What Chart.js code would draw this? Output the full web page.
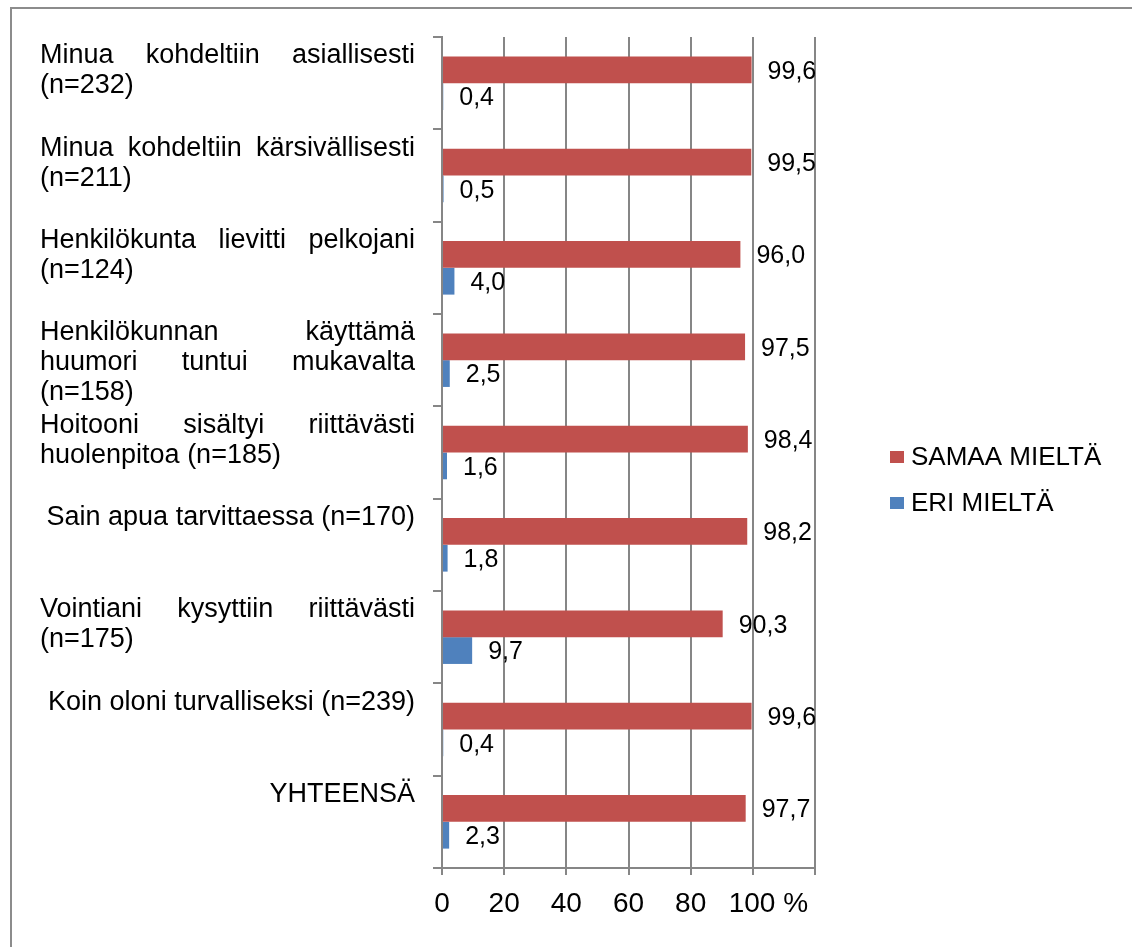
<!DOCTYPE html>
<html>
<head>
<meta charset="utf-8">
<title>SAMAA MIELTÄ / ERI MIELTÄ</title>
<script src="https://cdn.jsdelivr.net/npm/chart.js@4.4.1/dist/chart.umd.min.js"></script>
<style>
  body { margin: 0; background: #fff; }
  #cadre { position: absolute; left: 10px; top: 7px; width: 1122px; height: 940px; border-left: 2px solid #8c8c8c; border-top: 2px solid #8c8c8c; }
  #graph { position: absolute; left: 0; top: 0; }
</style>
</head>
<body>
<div id="cadre"></div>
<canvas id="graph" width="1132" height="947"></canvas>
<script>
// les données du graphique
var categories = [
    ['Minua kohdeltiin asiallisesti', '(n=232)'],
    ['Minua kohdeltiin kärsivällisesti', '(n=211)'],
    ['Henkilökunta lievitti pelkojani', '(n=124)'],
    ['Henkilökunnan käyttämä', 'huumori tuntui mukavalta', '(n=158)'],
    ['Hoitooni sisältyi riittävästi', 'huolenpitoa (n=185)'],
    ['Sain apua tarvittaessa (n=170)'],
    ['Vointiani kysyttiin riittävästi', '(n=175)'],
    ['Koin oloni turvalliseksi (n=239)'],
    ['YHTEENSÄ']
];
var samaaMielta = [99.6, 99.5, 96.0, 97.5, 98.4, 98.2, 90.3, 99.6, 97.7];
var eriMielta = [0.4, 0.5, 4.0, 2.5, 1.6, 1.8, 9.7, 0.4, 2.3];
var seriesNames = ['SAMAA MIELTÄ', 'ERI MIELTÄ'];
var seriesColors = ['#C0504D', '#4F81BD'];
var xTicks = [0, 20, 40, 60, 80, 100, 120];
// le "%" suit le 100 comme dans l'original (espaces devant pour garder 100 sur sa graduation)
var xTickLabels = ['0', '20', '40', '60', '80', '    100 %', ''];

var police = '"Liberation Sans", Arial, sans-serif';
Chart.defaults.font.family = police;
Chart.defaults.color = '#000';

// les libellés des catégories (texte justifié comme dans Excel)
const categoryLabels = {
    id: 'categoryLabels',
    afterDraw(chart) {
        const ctx = chart.ctx;
        const yScale = chart.scales.y;
        const left = 40, right = 415, lineH = 30;
        ctx.save();
        ctx.font = '27px ' + police;
        ctx.fillStyle = '#000';
        ctx.textBaseline = 'alphabetic';
        chart.data.labels.forEach(function(lines, i) {
            var y = yScale.getPixelForValue(i) - 20;
            lines.forEach(function(line, j) {
                var yy = y + j * lineH;
                if (lines.length == 1) {
                    ctx.textAlign = 'right';
                    ctx.fillText(line, right, yy);
                } else if (j == lines.length - 1) {
                    ctx.textAlign = 'left';
                    ctx.fillText(line, left, yy);
                } else {
                    var words = line.split(' ');
                    var total = 0;
                    words.forEach(function(w) { total += ctx.measureText(w).width; });
                    var gap = (right - left - total) / (words.length - 1);
                    var x = left;
                    ctx.textAlign = 'left';
                    words.forEach(function(w) {
                        ctx.fillText(w, x, yy);
                        x += ctx.measureText(w).width + gap;
                    });
                }
            });
        });
        ctx.restore();
    }
};

// les valeurs au bout des barres
const valueLabels = {
    id: 'valueLabels',
    afterDatasetsDraw(chart) {
        const ctx = chart.ctx;
        ctx.save();
        ctx.font = '25px ' + police;
        ctx.fillStyle = '#000';
        ctx.textAlign = 'left';
        ctx.textBaseline = 'middle';
        chart.data.datasets.forEach(function(ds, d) {
            chart.getDatasetMeta(d).data.forEach(function(bar, i) {
                ctx.fillText(ds.data[i].toFixed(1).replace('.', ','), bar.x + 16, bar.y + 2);
            });
        });
        ctx.restore();
    }
};

// la légende à droite
const legendBox = {
    id: 'legendBox',
    afterDraw(chart) {
        const ctx = chart.ctx;
        ctx.save();
        ctx.font = '26px ' + police;
        ctx.textAlign = 'left';
        ctx.textBaseline = 'middle';
        chart.data.datasets.forEach(function(ds, d) {
            var y = 457 + d * 46;
            ctx.fillStyle = ds.backgroundColor;
            ctx.fillRect(890, y - 6, 14, 12);
            ctx.fillStyle = '#000';
            ctx.fillText(ds.label, 911, y + 1);
        });
        ctx.restore();
    }
};

const barConfig = {
    type: 'bar',
    data: {
        labels: categories,
        datasets: [
            { label: seriesNames[0], data: samaaMielta, backgroundColor: seriesColors[0] },
            { label: seriesNames[1], data: eriMielta, backgroundColor: seriesColors[1] }
        ]
    },
    options: {
        indexAxis: 'y',
        responsive: false,
        animation: false,
        categoryPercentage: 0.58,
        barPercentage: 1,
        layout: { padding: { left: 0, top: 37, right: 317, bottom: 0 } },
        plugins: {
            legend: { display: false },
            tooltip: { enabled: false }
        },
        scales: {
            x: {
                min: 0,
                max: 120,
                ticks: {
                    stepSize: 20,
                    autoSkip: false,
                    maxRotation: 0,
                    padding: 12,
                    font: { size: 28 },
                    callback: function(v) { return xTickLabels[xTicks.indexOf(v)]; }
                },
                grid: { color: '#868686', lineWidth: 2, tickLength: 7 },
                border: { color: '#868686', width: 2 },
                afterFit: function(scale) { scale.height = 79; }
            },
            y: {
                ticks: { display: false },
                grid: { offset: true, drawOnChartArea: false, color: '#868686', lineWidth: 2, tickLength: 9 },
                border: { color: '#868686', width: 2 },
                afterFit: function(scale) { scale.width = 442; }
            }
        }
    },
    plugins: [categoryLabels, valueLabels, legendBox]
};

const barsCtx = document.getElementById('graph');
window.myBar = new Chart(barsCtx, barConfig);
</script>
</body>
</html>
